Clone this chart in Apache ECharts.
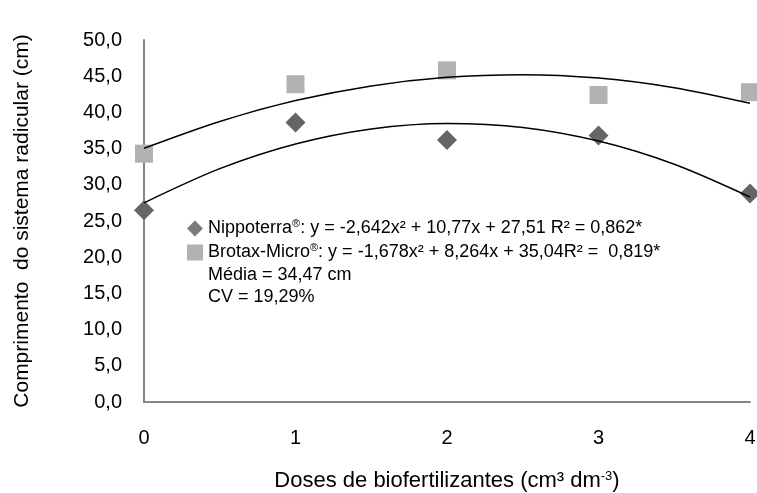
<!DOCTYPE html>
<html>
<head>
<meta charset="utf-8">
<script src="https://cdn.jsdelivr.net/npm/echarts@6/dist/echarts.min.js"></script>
<style>
  html, body { margin: 0; padding: 0; background: #fff; }
  #main { width: 757px; height: 493px; }
</style>
</head>
<body>
<div id="main"></div>
<script>
// doses (cm3 dm-3)
var doses = [0, 1, 2, 3, 4]
// observed values (cm)
var nippoterra = [26.5, 38.6, 36.2, 36.8, 28.8]
var brotax = [34.3, 43.9, 45.8, 42.4, 42.8]
// trend lines, read at half doses
var trendDoses = [0, 0.5, 1, 1.5, 2, 2.5, 3, 3.5, 4]
var nippoTrend = [27.51, 32.23, 35.64, 37.72, 38.48, 37.92, 36.04, 32.84, 28.32]
var brotaxTrend = [35.04, 38.75, 41.63, 43.66, 44.86, 45.21, 44.74, 43.41, 41.26]

var font = 'Liberation Sans'

function pairs(xs, ys) {
  return xs.map(function (x, i) { return [x, ys[i]] })
}

var myChart = echarts.init(document.getElementById('main'))
var option = {
  animation: false,
  backgroundColor: '#fff',
  textStyle: { fontFamily: font, color: '#000' },
  grid: { left: 144, right: 7, top: 40, bottom: 91, outerBoundsMode: 'none' },
  legend: {
    orient: 'vertical',
    left: 182,
    top: 213,
    itemWidth: 16,
    itemHeight: 16,
    itemGap: 3,
    data: [
      { name: 'Nippoterra', icon: 'diamond', itemStyle: { color: '#7a7a7a' } },
      { name: 'Brotax-Micro', icon: 'rect', itemStyle: { color: '#b2b2b2' } }
    ],
    formatter: function (name) {
      if (name == 'Nippoterra') {
        return 'Nippoterra{sup|®}: y = -2,642x² + 10,77x + 27,51 R² = 0,862*'
      }
      return 'Brotax-Micro{sup|®}: y = -1,678x² + 8,264x + 35,04R² =  0,819*'
    },
    textStyle: {
      fontFamily: font,
      fontSize: 18,
      lineHeight: 21,
      color: '#000',
      rich: {
        sup: { fontSize: 11, fontFamily: font, color: '#000', padding: [0, 0, 9, 0] }
      }
    }
  },
  graphic: [
    {
      type: 'text',
      left: 208,
      top: 266,
      style: { text: 'Média = 34,47 cm', font: '18px "Liberation Sans"', fill: '#000' }
    },
    {
      type: 'text',
      left: 208,
      top: 288,
      style: { text: 'CV = 19,29%', font: '18px "Liberation Sans"', fill: '#000' }
    }
  ],
  xAxis: {
    type: 'value',
    min: 0,
    max: 4,
    interval: 1,
    name: 'Doses de biofertilizantes (cm³ dm{sup|-3})',
    nameLocation: 'middle',
    nameGap: 68,
    nameTextStyle: {
      fontFamily: font,
      fontSize: 22,
      color: '#000',
      rich: {
        sup: { fontSize: 13, fontFamily: font, color: '#000', padding: [0, 0, 9, 0] }
      }
    },
    axisLine: { lineStyle: { color: '#868686', width: 2 } },
    axisTick: { show: false },
    splitLine: { show: false },
    axisLabel: { fontFamily: font, fontSize: 20, color: '#000', margin: 26 }
  },
  yAxis: {
    type: 'value',
    min: 0,
    max: 50,
    interval: 5,
    name: 'Comprimento  do sistema radicular (cm)',
    nameLocation: 'middle',
    nameGap: 111,
    nameTextStyle: { fontFamily: font, fontSize: 21, color: '#000' },
    axisLine: { show: true, lineStyle: { color: '#868686', width: 2 } },
    axisTick: { show: false },
    splitLine: { show: false },
    axisLabel: {
      fontFamily: font,
      fontSize: 20,
      color: '#000',
      margin: 22,
      formatter: function (v) { return v.toFixed(1).replace('.', ',') }
    }
  },
  series: [
    {
      name: 'Nippoterra',
      type: 'scatter',
      symbol: 'diamond',
      symbolSize: 20,
      itemStyle: { color: '#656565', opacity: 1 },
      data: pairs(doses, nippoterra),
      z: 2
    },
    {
      name: 'Brotax-Micro',
      type: 'scatter',
      symbol: 'rect',
      symbolSize: 18,
      itemStyle: { color: '#b2b2b2', opacity: 1 },
      data: pairs(doses, brotax),
      z: 2
    },
    {
      name: 'trendNippo',
      type: 'line',
      smooth: 0.3,
      symbol: 'none',
      lineStyle: { color: '#000', width: 1.5 },
      data: pairs(trendDoses, nippoTrend),
      z: 3
    },
    {
      name: 'trendBrotax',
      type: 'line',
      smooth: 0.3,
      symbol: 'none',
      lineStyle: { color: '#000', width: 1.5 },
      data: pairs(trendDoses, brotaxTrend),
      z: 3
    }
  ]
}
myChart.setOption(option)
</script>
</body>
</html>
